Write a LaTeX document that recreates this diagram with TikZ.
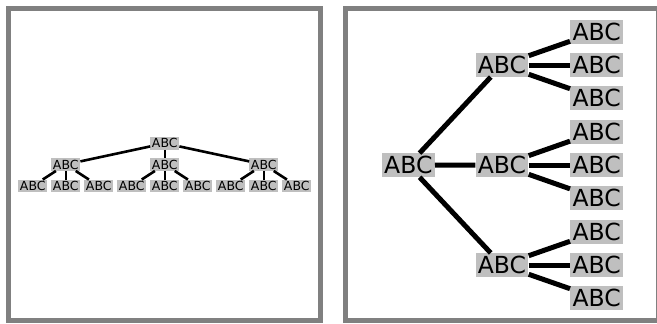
\documentclass[tikz,border=0pt]{standalone}
\usepackage{fontspec}
\setmainfont{DejaVu Sans}
\definecolor{boxgray}{RGB}{191,191,191}
\definecolor{framegray}{RGB}{128,128,128}
\begin{document}
\begin{tikzpicture}[x=1pt,y=-1pt,
  frame/.style={draw=framegray,line width=5pt},
  small/.style={fill=boxgray,inner xsep=1.6pt,inner ysep=1.7pt,text height=9.1pt,text depth=0pt,font=\fontsize{12.5}{12.5}\selectfont},
  big/.style={fill=boxgray,inner xsep=2.4pt,inner ysep=3.3pt,text height=17.1pt,text depth=0pt,font=\fontsize{23.5}{23.5}\selectfont},
  thinedge/.style={line width=2.6pt},
  thickedge/.style={line width=5pt}]
\useasboundingbox (0,0) rectangle (657,324);
\fill[white] (0,0) rectangle (657,324);
\draw[frame] (8.5,8.5) rectangle (320.7,320.7);
\draw[frame] (345.8,8.5) rectangle (658,320.7);
% left tree
\node[small] (r) at (164.8,143.3) {ABC};
\foreach \i/\x in {1/65.8,2/164.8,3/263.8}{
  \node[small] (m\i) at (\x,164.5) {ABC};
}
\foreach \i/\x in {1/32.8,2/65.8,3/98.8,4/131.8,5/164.8,6/197.8,7/230.8,8/263.8,9/296.8}{
  \node[small] (l\i) at (\x,186) {ABC};
}
\foreach \i in {1,2,3}{\draw[thinedge] (r) -- (m\i);}
\foreach \p/\c in {1/1,1/2,1/3,2/4,2/5,2/6,3/7,3/8,3/9}{\draw[thinedge] (m\p) -- (l\c);}
% right tree
\node[big] (R) at (408.3,165.2) {ABC};
\foreach \i/\y in {1/65,2/165,3/265}{
  \node[big] (M\i) at (502,\y) {ABC};
}
\foreach \i/\y in {1/32,2/65,3/98,4/131.8,5/165,6/198.2,7/232,8/265,9/298}{
  \node[big] (L\i) at (596.7,\y) {ABC};
}
\foreach \i in {1,2,3}{\draw[thickedge] (R) -- (M\i);}
\foreach \p/\c in {1/1,1/2,1/3,2/4,2/5,2/6,3/7,3/8,3/9}{\draw[thickedge] (M\p) -- (L\c);}
\end{tikzpicture}
\end{document}
